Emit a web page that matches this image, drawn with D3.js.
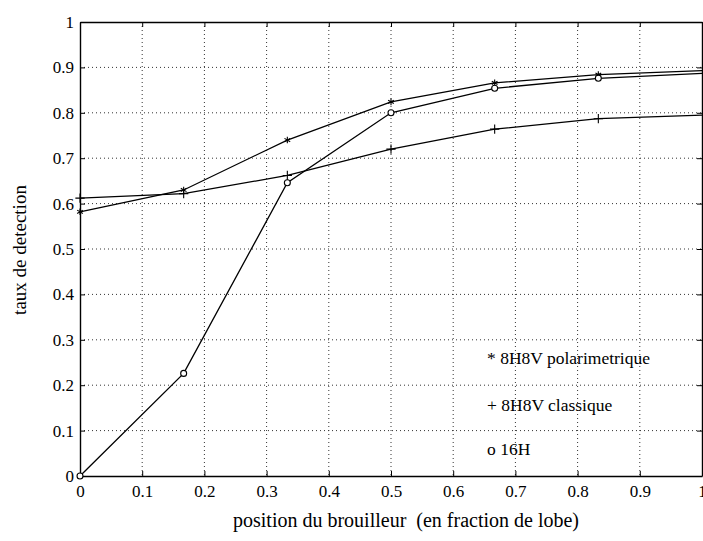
<!DOCTYPE html>
<html>
<head>
<meta charset="utf-8">
<script src="https://cdn.jsdelivr.net/npm/d3@7"></script>
<style>
  html, body { margin: 0; padding: 0; background: #fff; }
  svg { display: block; }
  text { font-family: "Liberation Serif", "DejaVu Serif", serif; fill: #000; }
</style>
</head>
<body>
<div id="chart"></div>
<script>
  // jammer position, in fraction of the lobe
  const positions = [0, 1 / 6, 1 / 3, 1 / 2, 2 / 3, 5 / 6, 1];
  const polarimetrique = [0.582, 0.63, 0.74, 0.824, 0.866, 0.884, 0.893];
  const classique = [0.612, 0.622, 0.662, 0.72, 0.764, 0.787, 0.795];
  const h16 = [0, 0.226, 0.646, 0.8, 0.854, 0.876, 0.887];

  const xTicks = [0, 0.1, 0.2, 0.3, 0.4, 0.5, 0.6, 0.7, 0.8, 0.9, 1];
  const yTicks = [0, 0.1, 0.2, 0.3, 0.4, 0.5, 0.6, 0.7, 0.8, 0.9, 1];
  const legendLabels = ['* 8H8V polarimetrique', '+ 8H8V classique', 'o 16H'];

  const width = 703, height = 541;
  const x = d3.scaleLinear().domain([0, 1]).range([80, 702]);
  const y = d3.scaleLinear().domain([0, 1]).range([476, 22]);

  const svg = d3.select('#chart').append('svg')
    .attr('width', width)
    .attr('height', height);

  // dotted grid
  const grid = svg.append('g').attr('stroke', '#333').attr('stroke-width', 1)
    .attr('stroke-dasharray', '1,3');
  grid.selectAll('line.gx').data(xTicks.slice(1, -1)).join('line')
    .attr('x1', d => x(d)).attr('x2', d => x(d))
    .attr('y1', y(1)).attr('y2', y(0));
  grid.selectAll('line.gy').data(yTicks.slice(1, -1)).join('line')
    .attr('x1', x(0)).attr('x2', x(1))
    .attr('y1', d => y(d)).attr('y2', d => y(d));

  // axes (matlab style: ticks inside, box around)
  const fmt = d => (d === 0 || d === 1) ? String(d) : d3.format('.1f')(d);
  const xAxis = svg.append('g').attr('transform', `translate(0,${y(0)})`)
    .call(d3.axisBottom(x).tickValues(xTicks).tickFormat(fmt).tickSizeInner(-5).tickSizeOuter(0).tickPadding(9));
  const yAxis = svg.append('g').attr('transform', `translate(${x(0)},0)`)
    .call(d3.axisLeft(y).tickValues(yTicks).tickFormat(fmt).tickSizeInner(-5).tickSizeOuter(0).tickPadding(6));
  svg.append('g').attr('transform', `translate(0,${y(1)})`)
    .call(d3.axisTop(x).tickValues(xTicks).tickFormat('').tickSizeInner(-5).tickSizeOuter(0));
  svg.append('g').attr('transform', `translate(${x(1)},0)`)
    .call(d3.axisRight(y).tickValues(yTicks).tickFormat('').tickSizeInner(-5).tickSizeOuter(0));

  svg.selectAll('.domain').attr('stroke', '#000').attr('stroke-width', 1.4);
  svg.selectAll('.tick line').attr('stroke', '#000');
  xAxis.selectAll('text').attr('font-size', 17).style('font-family', '"Liberation Serif", serif');
  yAxis.selectAll('text').attr('font-size', 17).style('font-family', '"Liberation Serif", serif');

  // series
  const line = d3.line().x(d => x(d[0])).y(d => y(d[1]));
  const series = [
    { name: 'polar', values: polarimetrique, marker: 'star' },
    { name: 'classique', values: classique, marker: 'plus' },
    { name: '16H', values: h16, marker: 'circle' }
  ];

  series.forEach(s => {
    const pts = positions.map((p, i) => [p, s.values[i]]);
    svg.append('path')
      .datum(pts)
      .attr('fill', 'none')
      .attr('stroke', '#000')
      .attr('stroke-width', 1.3)
      .attr('d', line);

    const m = svg.append('g');
    const sym = s.marker === 'circle' ? d3.symbolCircle
      : s.marker === 'plus' ? d3.symbolPlus : d3.symbolAsterisk;
    m.selectAll('path').data(pts.slice(0, -1)).join('path')
      .attr('transform', d => `translate(${x(d[0])},${y(d[1])})`)
      .attr('d', d3.symbol().type(sym).size(s.marker === 'circle' ? 28 : 30))
      .attr('fill', s.marker === 'circle' ? '#fff' : 'none')
      .attr('stroke', '#000')
      .attr('stroke-width', 1.1);
  });

  // legend as plain text
  svg.append('g').selectAll('text').data(legendLabels).join('text')
    .attr('x', 487)
    .attr('y', (d, i) => [364, 411, 455][i])
    .attr('font-size', 17.5)
    .text(d => d);

  // axis labels
  svg.append('text')
    .attr('x', 406).attr('y', 527)
    .attr('text-anchor', 'middle')
    .attr('font-size', 20)
    .attr('xml:space', 'preserve')
    .style('white-space', 'pre')
    .text('position du brouilleur  (en fraction de lobe)');

  svg.append('text')
    .attr('transform', 'translate(26,250) rotate(-90)')
    .attr('text-anchor', 'middle')
    .attr('font-size', 19)
    .text('taux de detection');
</script>
</body>
</html>
